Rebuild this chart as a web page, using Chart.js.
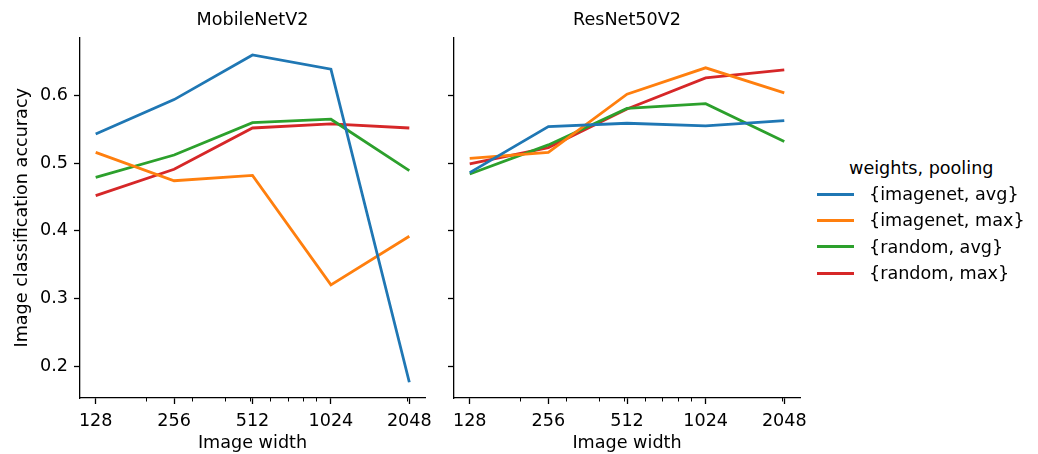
<!DOCTYPE html>
<html>
<head>
  <meta charset="UTF-8">
  <title>Image width vs accuracy</title>
  <script src="https://cdn.jsdelivr.net/npm/chart.js@4.4.1/dist/chart.umd.min.js"></script>
</head>
<style>
  body { margin: 0; background: #fff; }
  #wrap { position: relative; width: 1038px; height: 454px; font-family: 'DejaVu Sans'; }
  #c1 { position: absolute; left: 0; top: 0; }
  #c2 { position: absolute; left: 440px; top: 0; }
  #legend { position: absolute; left: 0; top: 0; font-size: 17.6px; color: #000; }
  .lt { position: absolute; white-space: nowrap; line-height: 20px; }
  .ln { position: absolute; width: 37px; height: 3px; }
</style>
<body>
  <div id="wrap">
    <canvas id="c1" width="440" height="454"></canvas>
    <canvas id="c2" width="380" height="454"></canvas>
    <div id="legend"></div>
  </div>

<script>
  // image widths on the x axis (log2 scale)
  var imageWidths = [128, 256, 512, 1024, 2048];
  var minorTicks = [200, 300, 400, 500, 600, 700, 800, 900, 2000];
  var yTicks = [0.2, 0.3, 0.4, 0.5, 0.6];

  var seriesNames = ['{imagenet, avg}', '{imagenet, max}', '{random, avg}', '{random, max}'];
  var colors = ['#1f77b4', '#ff7f0e', '#2ca02c', '#d62728'];

  // MobileNetV2
  var mobileImagenetAvg = [0.543, 0.594, 0.660, 0.639, 0.176];
  var mobileImagenetMax = [0.516, 0.474, 0.482, 0.320, 0.392];
  var mobileRandomAvg   = [0.479, 0.512, 0.560, 0.565, 0.489];
  var mobileRandomMax   = [0.452, 0.491, 0.552, 0.558, 0.552];

  // ResNet50V2
  var resImagenetAvg = [0.486, 0.554, 0.559, 0.555, 0.563];
  var resImagenetMax = [0.507, 0.516, 0.602, 0.641, 0.604];
  var resRandomAvg   = [0.484, 0.527, 0.581, 0.588, 0.532];
  var resRandomMax   = [0.499, 0.523, 0.580, 0.626, 0.638];

  Chart.defaults.font.family = 'DejaVu Sans';
  Chart.defaults.font.size = 17.6;
  Chart.defaults.color = '#000';
  var fontSize = 17.6;

  function makeSets(list) {
    return list.map(function (vals, i) {
      return {
        label: seriesNames[i],
        data: vals.map(function (v, j) { return { x: imageWidths[j], y: v }; }),
        borderColor: colors[i],
        borderWidth: 2.8,
        pointRadius: 0,
        tension: 0
      };
    });
  }

  // small log10 minor ticks under the x axis
  var minorTickPlugin = {
    id: 'minorTicks',
    afterDraw: function (chart) {
      var ctx = chart.ctx;
      var xs = chart.scales.x;
      var bottom = chart.chartArea.bottom;
      ctx.save();
      ctx.strokeStyle = '#000';
      ctx.lineWidth = 1;
      minorTicks.forEach(function (v) {
        var px = Math.round(xs.getPixelForValue(v)) + 0.5;
        ctx.beginPath();
        ctx.moveTo(px, bottom);
        ctx.lineTo(px, bottom + 3.5);
        ctx.stroke();
      });
      ctx.restore();
    }
  };

  function makeChart(id, title, sets, showYLabels, yWidth, padRight) {
    return new Chart(document.getElementById(id), {
      type: 'line',
      data: { datasets: makeSets(sets) },
      plugins: [minorTickPlugin],
      options: {
        responsive: false,
        animation: false,
        layout: { padding: { left: 0, right: padRight, top: 0, bottom: 0 } },
        plugins: {
          legend: { display: false },
          tooltip: { enabled: false },
          title: {
            display: true, text: title, fullSize: false,
            font: { size: fontSize, weight: 'normal' }, color: '#000',
            padding: { top: 10, bottom: 6.4 }
          }
        },
        scales: {
          x: {
            type: 'logarithmic',
            min: 128 / Math.pow(2, 0.2),
            max: 2048 * Math.pow(2, 0.2),
            afterBuildTicks: function (scale) {
              scale.ticks = imageWidths.map(function (v) { return { value: v }; });
            },
            afterFit: function (scale) { scale.height = 56; },
            ticks: { autoSkip: false, maxRotation: 0, padding: 6.5, callback: function (v) { return String(v); } },
            grid: { drawOnChartArea: false, tickLength: 6, tickColor: '#000', tickWidth: 1.3 },
            border: { color: '#000', width: 1.3 },
            title: { display: true, text: 'Image width', padding: 0 }
          },
          y: {
            min: 0.1527,
            max: 0.6858,
            afterBuildTicks: function (scale) {
              scale.ticks = yTicks.map(function (v) { return { value: v }; });
            },
            afterFit: function (scale) { scale.width = yWidth; },
            ticks: { padding: 6, callback: function (v) { return showYLabels ? v.toFixed(1) : ''; } },
            grid: { drawOnChartArea: false, tickLength: 6, tickColor: '#000', tickWidth: 1.3 },
            border: { color: '#000', width: 1.3 },
            title: { display: showYLabels, text: 'Image classification accuracy', padding: { top: 11.5, bottom: 0 } }
          }
        }
      }
    });
  }

  makeChart('c1', 'MobileNetV2', [mobileImagenetAvg, mobileImagenetMax, mobileRandomAvg, mobileRandomMax], true, 80, 15);
  makeChart('c2', 'ResNet50V2', [resImagenetAvg, resImagenetMax, resRandomAvg, resRandomMax], false, 14, 20);

  // legend on the right
  function legend() {
    var box = document.getElementById('legend');
    var t = document.createElement('div');
    t.className = 'lt';
    t.textContent = 'weights, pooling';
    t.style.left = '849px';
    t.style.top = '158px';
    box.appendChild(t);
    var rowY = [194, 220.3, 246.7, 273];
    for (var i = 0; i < seriesNames.length; i++) {
      var ln = document.createElement('div');
      ln.className = 'ln';
      ln.style.left = '817px';
      ln.style.top = Math.round(rowY[i] - 1.5) + 'px';
      ln.style.background = colors[i];
      box.appendChild(ln);
      var lt = document.createElement('div');
      lt.className = 'lt';
      lt.textContent = seriesNames[i];
      lt.style.left = '869px';
      lt.style.top = (rowY[i] - 10) + 'px';
      box.appendChild(lt);
    }
  }
  legend();
</script>
</body>
</html>
